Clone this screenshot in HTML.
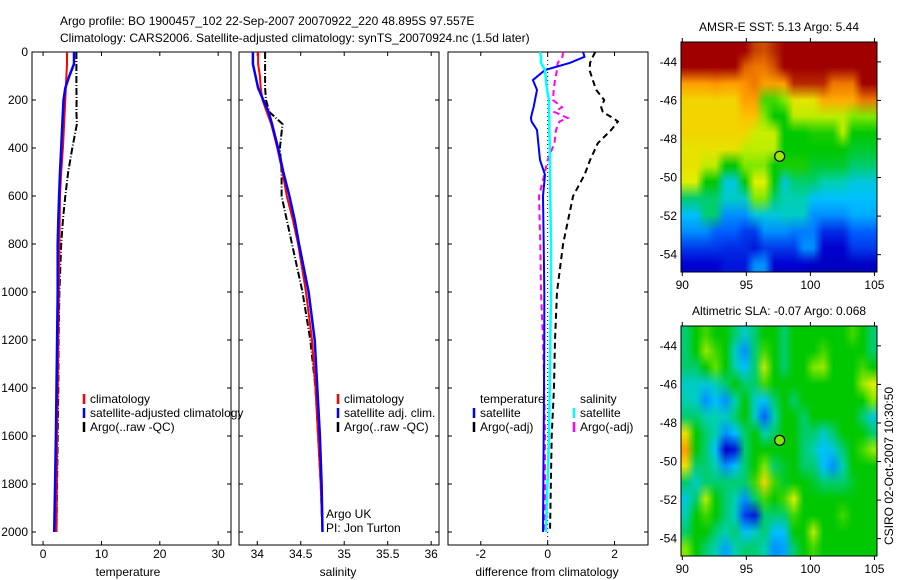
<!DOCTYPE html>
<html><head><meta charset="utf-8">
<style>
body{margin:0;background:#fff;}
#wrap{position:relative;width:900px;height:580px;overflow:hidden;font-family:"Liberation Sans",sans-serif;}
svg text{font-family:"Liberation Sans",sans-serif;font-size:12px;fill:#000;}
canvas{position:absolute;image-rendering:auto;}
</style></head>
<body>
<div id="wrap">
<canvas id="sstmap" width="20" height="14" style="left:681px;top:42px;width:196px;height:230px"></canvas>
<canvas id="slamap" width="20" height="14" style="left:681px;top:326px;width:196px;height:230px"></canvas>
<svg id="fig" width="900" height="580" style="position:absolute;left:0;top:0" xmlns="http://www.w3.org/2000/svg">
<text x="60" y="25">Argo profile: BO 1900457_102 22-Sep-2007 20070922_220 48.895S 97.557E</text>
<text x="60" y="42">Climatology: CARS2006. Satellite-adjusted climatology: synTS_20070924.nc (1.5d later)</text>
</svg>
</div>
<script>
// ---- depth grids & series ----
const depthTicks=[0,200,400,600,800,1000,1200,1400,1600,1800,2000];
const depths=[0,50,100,150,200,250,300,400,500,600,700,800,1000,1200,1400,1600,1800,2000];
const tempClim=[4.1,4.1,4.0,3.9,3.8,3.7,3.6,3.4,3.1,2.9,2.85,2.8,2.7,2.6,2.5,2.4,2.35,2.3];
const tempSat=[5.3,5.3,4.5,3.8,3.5,3.4,3.3,3.1,2.9,2.75,2.6,2.5,2.5,2.4,2.3,2.2,2.05,1.9];
const tempArgo=[5.7,5.7,5.7,5.7,5.75,5.7,5.8,5.0,4.3,3.8,3.4,3.1,2.8,2.65,2.6,2.5,2.4,2.3];
const salClim=[34.01,34.01,34.03,34.04,34.06,34.11,34.16,34.23,34.29,34.34,34.41,34.47,34.56,34.63,34.67,34.70,34.73,34.75];
const salSat=[33.95,33.95,33.98,34.01,34.07,34.13,34.17,34.24,34.30,34.37,34.43,34.48,34.59,34.66,34.69,34.72,34.74,34.75];
const salArgo=[34.09,34.09,34.09,34.09,34.10,34.14,34.29,34.26,34.28,34.28,34.34,34.40,34.52,34.61,34.67,34.70,34.73,34.75];
const diffDepths=[0,20,45,75,117,158,200,230,250,275,290,325,380,450,512,600,800,1000,1200,1400,1600,2000];
const dTempSat=[1.06,1.1,0.67,-0.08,-0.44,-0.32,-0.38,-0.42,-0.46,-0.5,-0.48,-0.32,-0.28,-0.23,-0.08,-0.14,-0.12,-0.1,-0.1,-0.11,-0.12,-0.14];
const dTempArgo=[1.42,1.35,1.27,1.25,1.35,1.45,1.69,1.6,1.65,1.95,2.1,1.9,1.5,1.27,1.1,0.76,0.46,0.28,0.22,0.19,0.12,0.07];
const dSalSat=[-0.23,-0.2,-0.2,-0.08,-0.05,-0.02,0.04,0.04,0.04,0.05,0.05,0.05,0.06,0.07,0.07,0.08,0.1,0.1,0.08,0.06,0.04,-0.05];
const dSalArgo=[0.46,0.44,0.3,0.28,0.22,0.18,0.16,0.43,0.2,0.6,0.35,0.25,0.2,0.0,-0.1,-0.26,-0.22,-0.2,-0.14,-0.1,-0.08,-0.08];
const tempTicks=[0,10,20,30];
const salTicks=[34,34.5,35,35.5,36];
const salTickLabels=["34","34.5","35","35.5","36"];
const diffTicks=[-2,0,2];
// ---- map data ----
const sstRows=[
[1,1,1,1,1,1,1,0.92,0.9,0.95,1,1,1,1,1,1,1,1,1,1],
[1,1,1,1,1,1,0.88,0.85,0.85,0.9,1,1,1,1,1,1,1,1,1,1],
[0.8,0.8,0.8,0.82,0.8,0.8,0.82,0.85,0.8,0.8,0.8,0.95,0.95,0.95,0.95,0.85,0.85,0.85,1,1],
[0.72,0.72,0.72,0.72,0.72,0.72,0.8,0.8,0.55,0.55,0.6,0.7,0.7,0.7,0.78,0.78,0.78,0.78,0.85,0.85],
[0.72,0.72,0.72,0.72,0.72,0.72,0.75,0.75,0.6,0.5,0.5,0.65,0.65,0.65,0.65,0.65,0.65,0.6,0.6,0.6],
[0.72,0.72,0.72,0.72,0.72,0.72,0.72,0.66,0.66,0.66,0.5,0.5,0.5,0.52,0.52,0.52,0.65,0.5,0.5,0.5],
[0.7,0.7,0.7,0.7,0.7,0.7,0.65,0.65,0.65,0.65,0.5,0.5,0.5,0.5,0.5,0.5,0.5,0.48,0.48,0.48],
[0.7,0.7,0.65,0.65,0.5,0.5,0.6,0.6,0.6,0.5,0.52,0.52,0.52,0.48,0.48,0.48,0.48,0.45,0.45,0.45],
[0.68,0.68,0.5,0.5,0.38,0.38,0.5,0.68,0.68,0.5,0.38,0.45,0.45,0.45,0.42,0.42,0.42,0.38,0.38,0.38],
[0.45,0.45,0.45,0.45,0.4,0.4,0.4,0.6,0.6,0.45,0.42,0.42,0.42,0.35,0.35,0.35,0.35,0.35,0.35,0.35],
[0.35,0.35,0.45,0.45,0.3,0.3,0.3,0.38,0.38,0.38,0.4,0.4,0.4,0.3,0.3,0.3,0.3,0.33,0.33,0.33],
[0.3,0.3,0.3,0.25,0.25,0.25,0.2,0.2,0.3,0.3,0.3,0.28,0.28,0.28,0.18,0.18,0.18,0.25,0.25,0.25],
[0.2,0.2,0.2,0.2,0.18,0.18,0.18,0.15,0.2,0.2,0.2,0.2,0.3,0.3,0.12,0.12,0.12,0.2,0.2,0.2],
[0.12,0.12,0.12,0.12,0.15,0.15,0.15,0.3,0.3,0.12,0.12,0.12,0.12,0.1,0.1,0.1,0.1,0.1,0.1,0.1]];
const slaRows=[
[0.45,0.5,0.55,0.5,0.5,0.45,0.4,0.45,0.5,0.5,0.45,0.5,0.5,0.5,0.5,0.5,0.5,0.55,0.5,0.45],
[0.45,0.5,0.62,0.55,0.5,0.4,0.3,0.45,0.55,0.5,0.45,0.5,0.5,0.5,0.55,0.5,0.5,0.5,0.5,0.45],
[0.45,0.45,0.5,0.58,0.5,0.42,0.35,0.45,0.65,0.5,0.45,0.5,0.5,0.6,0.62,0.5,0.5,0.5,0.55,0.5],
[0.4,0.4,0.38,0.42,0.45,0.5,0.45,0.45,0.55,0.5,0.5,0.5,0.5,0.5,0.5,0.5,0.5,0.5,0.62,0.68],
[0.42,0.4,0.3,0.35,0.3,0.42,0.5,0.4,0.35,0.45,0.5,0.45,0.5,0.5,0.5,0.5,0.5,0.5,0.5,0.6],
[0.45,0.45,0.42,0.42,0.4,0.45,0.5,0.4,0.25,0.42,0.5,0.5,0.45,0.5,0.5,0.5,0.5,0.5,0.45,0.38],
[0.7,0.5,0.45,0.42,0.3,0.35,0.45,0.5,0.42,0.45,0.5,0.5,0.45,0.45,0.4,0.45,0.5,0.5,0.5,0.45],
[0.8,0.5,0.45,0.35,0.1,0.15,0.45,0.5,0.5,0.5,0.5,0.5,0.45,0.42,0.35,0.38,0.45,0.5,0.55,0.62],
[0.7,0.45,0.45,0.42,0.3,0.35,0.45,0.5,0.6,0.45,0.48,0.5,0.45,0.45,0.35,0.3,0.42,0.5,0.5,0.5],
[0.45,0.4,0.45,0.45,0.45,0.45,0.45,0.55,0.72,0.55,0.48,0.5,0.5,0.48,0.45,0.45,0.45,0.48,0.5,0.5],
[0.38,0.45,0.65,0.5,0.45,0.42,0.3,0.45,0.55,0.5,0.55,0.68,0.5,0.5,0.5,0.5,0.5,0.5,0.5,0.5],
[0.42,0.5,0.55,0.5,0.45,0.4,0.2,0.15,0.45,0.45,0.45,0.55,0.5,0.5,0.5,0.5,0.55,0.5,0.5,0.5],
[0.45,0.5,0.5,0.45,0.42,0.45,0.35,0.4,0.45,0.35,0.35,0.5,0.5,0.65,0.5,0.5,0.5,0.5,0.5,0.5],
[0.6,0.5,0.45,0.42,0.32,0.42,0.45,0.45,0.42,0.3,0.32,0.45,0.5,0.55,0.5,0.5,0.5,0.5,0.5,0.5]];
const lonTicks=[90,95,100,105];
const latTicks=[-44,-46,-48,-50,-52,-54];
const argoPos=[97.6,-48.9];
const sstArgoVal=[0.62];
const slaArgoVal=[0.6];

const NS="http://www.w3.org/2000/svg";
const svg=document.getElementById('fig');
function mk(tag,attrs,parent){const e=document.createElementNS(NS,tag);for(const k in attrs)e.setAttribute(k,attrs[k]);(parent||svg).appendChild(e);return e;}

// depth axis
const yTop=52, pxPerM=0.24, yBot=545;
function yD(d){return yTop+d*pxPerM;}
const panels=[
 {x0:32,x1:231,vmin:-1.9,vmax:32.2,name:'temperature'},
 {x0:239,x1:439,vmin:33.79,vmax:36.09,name:'salinity'},
 {x0:448,x1:648,vmin:-2.98,vmax:3.0,name:'difference'}];
function xf(p){return v=>p.x0+(v-p.vmin)/(p.vmax-p.vmin)*(p.x1-p.x0);}

function line(p,ds,vals,color,w,dash,name){
  const f=xf(p);let d='';
  vals.forEach((v,i)=>{d+=(i?'L':'M')+f(v).toFixed(1)+' '+yD(ds[i]).toFixed(1);});
  const a={d:d,fill:'none',stroke:color,'stroke-width':w};if(dash)a['stroke-dasharray']=dash;
  const e=mk('path',a);
  
  
}

panels.forEach((p,pi)=>{
  const f=xf(p);
  const fr=mk('rect',{x:p.x0,y:yTop,width:p.x1-p.x0,height:yBot-yTop,fill:'none',stroke:'#000','stroke-width':1});
  
  
  depthTicks.forEach(d=>{
    mk('line',{x1:p.x0,x2:p.x0+4,y1:yD(d),y2:yD(d),stroke:'#000'});
    mk('line',{x1:p.x1-4,x2:p.x1,y1:yD(d),y2:yD(d),stroke:'#000'});
    if(pi===0){const t=mk('text',{x:28,y:yD(d)+4,'text-anchor':'end'});t.textContent=d;
      
      }
  });
  const ticks=pi===0?tempTicks:pi===1?salTicks:diffTicks;
  ticks.forEach((v,i)=>{
    const x=f(v);
    mk('line',{x1:x,x2:x,y1:yTop,y2:yTop+4,stroke:'#000'});
    mk('line',{x1:x,x2:x,y1:yBot-4,y2:yBot,stroke:'#000'});
    const t=mk('text',{x:x,y:558,'text-anchor':'middle'});
    t.textContent=pi===1?salTickLabels[i]:String(v);
    
    
  });
});
// x-axis titles
[['temperature',128],['salinity',338],['difference from climatology',547]].forEach(a=>{
  const t=mk('text',{x:a[1],y:576,'text-anchor':'middle'});t.textContent=a[0];
  
  
});
// zero line on diff panel
const f3=xf(panels[2]);
const zl=mk('line',{x1:f3(0),x2:f3(0),y1:yTop,y2:yBot,stroke:'#000','stroke-dasharray':'1,3'});



const DD='7,2,1,2';
line(panels[0],depths,tempArgo,'#000',2,DD,'temp-argo-line');
line(panels[0],depths,tempClim,'#f00',2,null,'temp-climatology-line');
line(panels[0],depths,tempSat,'#00f',2.5,null,'temp-satellite-line');
line(panels[1],depths,salArgo,'#000',2,DD,'sal-argo-line');
line(panels[1],depths,salClim,'#f00',2,null,'sal-climatology-line');
line(panels[1],depths,salSat,'#00f',2.5,null,'sal-satellite-line');
line(panels[2],diffDepths,dTempArgo,'#000',2,'6,4','diff-temp-argo-line');
line(panels[2],diffDepths,dSalArgo,'#f0f',2,'6,4','diff-sal-argo-line');
line(panels[2],diffDepths,dTempSat,'#00f',2,null,'diff-temp-satellite-line');
line(panels[2],diffDepths,dSalSat,'#0ff',2.5,null,'diff-sal-satellite-line');

function legend(x,y,color,label,name){
  if(color){const m=mk('line',{x1:x,x2:x,y1:y-9,y2:y+1,stroke:color,'stroke-width':2.5});}
  const t=mk('text',{x:x+6,y:y});t.textContent=label;
  
  
}
legend(84,403,'#f00','climatology','legend-temp-climatology');
legend(84,417,'#00f','satellite-adjusted climatology','legend-temp-satellite');
legend(84,431,'#000','Argo(..raw -QC)','legend-temp-argo');
legend(338,403,'#f00','climatology','legend-sal-climatology');
legend(338,417,'#00f','satellite adj. clim.','legend-sal-satellite');
legend(338,431,'#000','Argo(..raw -QC)','legend-sal-argo');
legend(474,403,null,'temperature','legend-diff-temp-header');
legend(474,417,'#00f','satellite','legend-diff-temp-satellite');
legend(474,431,'#000','Argo(-adj)','legend-diff-temp-argo');
legend(574,403,null,'salinity','legend-diff-sal-header');
legend(574,417,'#0ff','satellite','legend-diff-sal-satellite');
legend(574,431,'#f0f','Argo(-adj)','legend-diff-sal-argo');
legend(320,518,null,'Argo UK','argo-uk-label');
legend(320,532,null,'PI: Jon Turton','pi-label');

// ---- maps ----
const stops=[[0,[0,0,128]],[0.12,[0,0,208]],[0.25,[0,96,255]],[0.35,[0,192,255]],[0.42,[0,208,176]],[0.5,[0,200,0]],[0.6,[128,232,0]],[0.68,[224,240,0]],[0.75,[255,192,0]],[0.82,[255,144,0]],[0.9,[208,80,0]],[1,[160,0,0]]];
function cmap(v){v=Math.max(0,Math.min(1,v));for(let i=1;i<stops.length;i++){if(v<=stops[i][0]){const a=stops[i-1],b=stops[i];const t=(v-a[0])/(b[0]-a[0]);return 'rgb('+a[1].map((c,k)=>Math.round(c+(b[1][k]-c)*t)).join(',')+')';}}return 'rgb(160,0,0)';}
function drawMap(id,rows){const c=document.getElementById(id).getContext('2d');rows.forEach((r,j)=>r.forEach((v,i)=>{c.fillStyle=cmap(v);c.fillRect(i,j,1,1);}));}
drawMap('sstmap',sstRows);drawMap('slamap',slaRows);

const mx0=681,mx1=877,lonMin=89.9,lonMax=105.2,latMax=-42.97,latMin=-54.9;
function mapAxes(top,title,name,argoVal){
  const bot=top+230;
  const lx=v=>mx0+(v-lonMin)/(lonMax-lonMin)*(mx1-mx0);
  const ly=v=>top+(latMax-v)/(latMax-latMin)*230;
  const fr=mk('rect',{x:mx0,y:top,width:mx1-mx0,height:230,fill:'none',stroke:'#000'});
  
  
  lonTicks.forEach(v=>{const x=lx(v);
    mk('line',{x1:x,x2:x,y1:top-4,y2:top,stroke:'#000'});
    mk('line',{x1:x,x2:x,y1:bot,y2:bot+4,stroke:'#000'});
    const t=mk('text',{x:x,y:bot+17,'text-anchor':'middle'});t.textContent=v;
    
    });
  latTicks.forEach(v=>{const y=ly(v);
    mk('line',{x1:mx1,x2:mx1+4,y1:y,y2:y,stroke:'#000'});
    const t=mk('text',{x:677,y:y+4,'text-anchor':'end'});t.textContent=v;
    
    });
  const tt=mk('text',{x:(mx0+mx1)/2,y:top-11,'text-anchor':'middle'});tt.textContent=title;
  
  
  const c=mk('circle',{cx:lx(argoPos[0]),cy:ly(argoPos[1]),r:5,fill:cmap(argoVal),stroke:'#000','stroke-width':1.2});
  
  
}
mapAxes(42,'AMSR-E SST: 5.13 Argo: 5.44','sst-map',sstArgoVal[0]);
mapAxes(326,'Altimetric SLA: -0.07 Argo: 0.068','sla-map',slaArgoVal[0]);
const cs=mk('text',{x:0,y:0,transform:'translate(893,545) rotate(-90)'});
cs.textContent='CSIRO 02-Oct-2007 10:30:50';


</script>
</body></html>
